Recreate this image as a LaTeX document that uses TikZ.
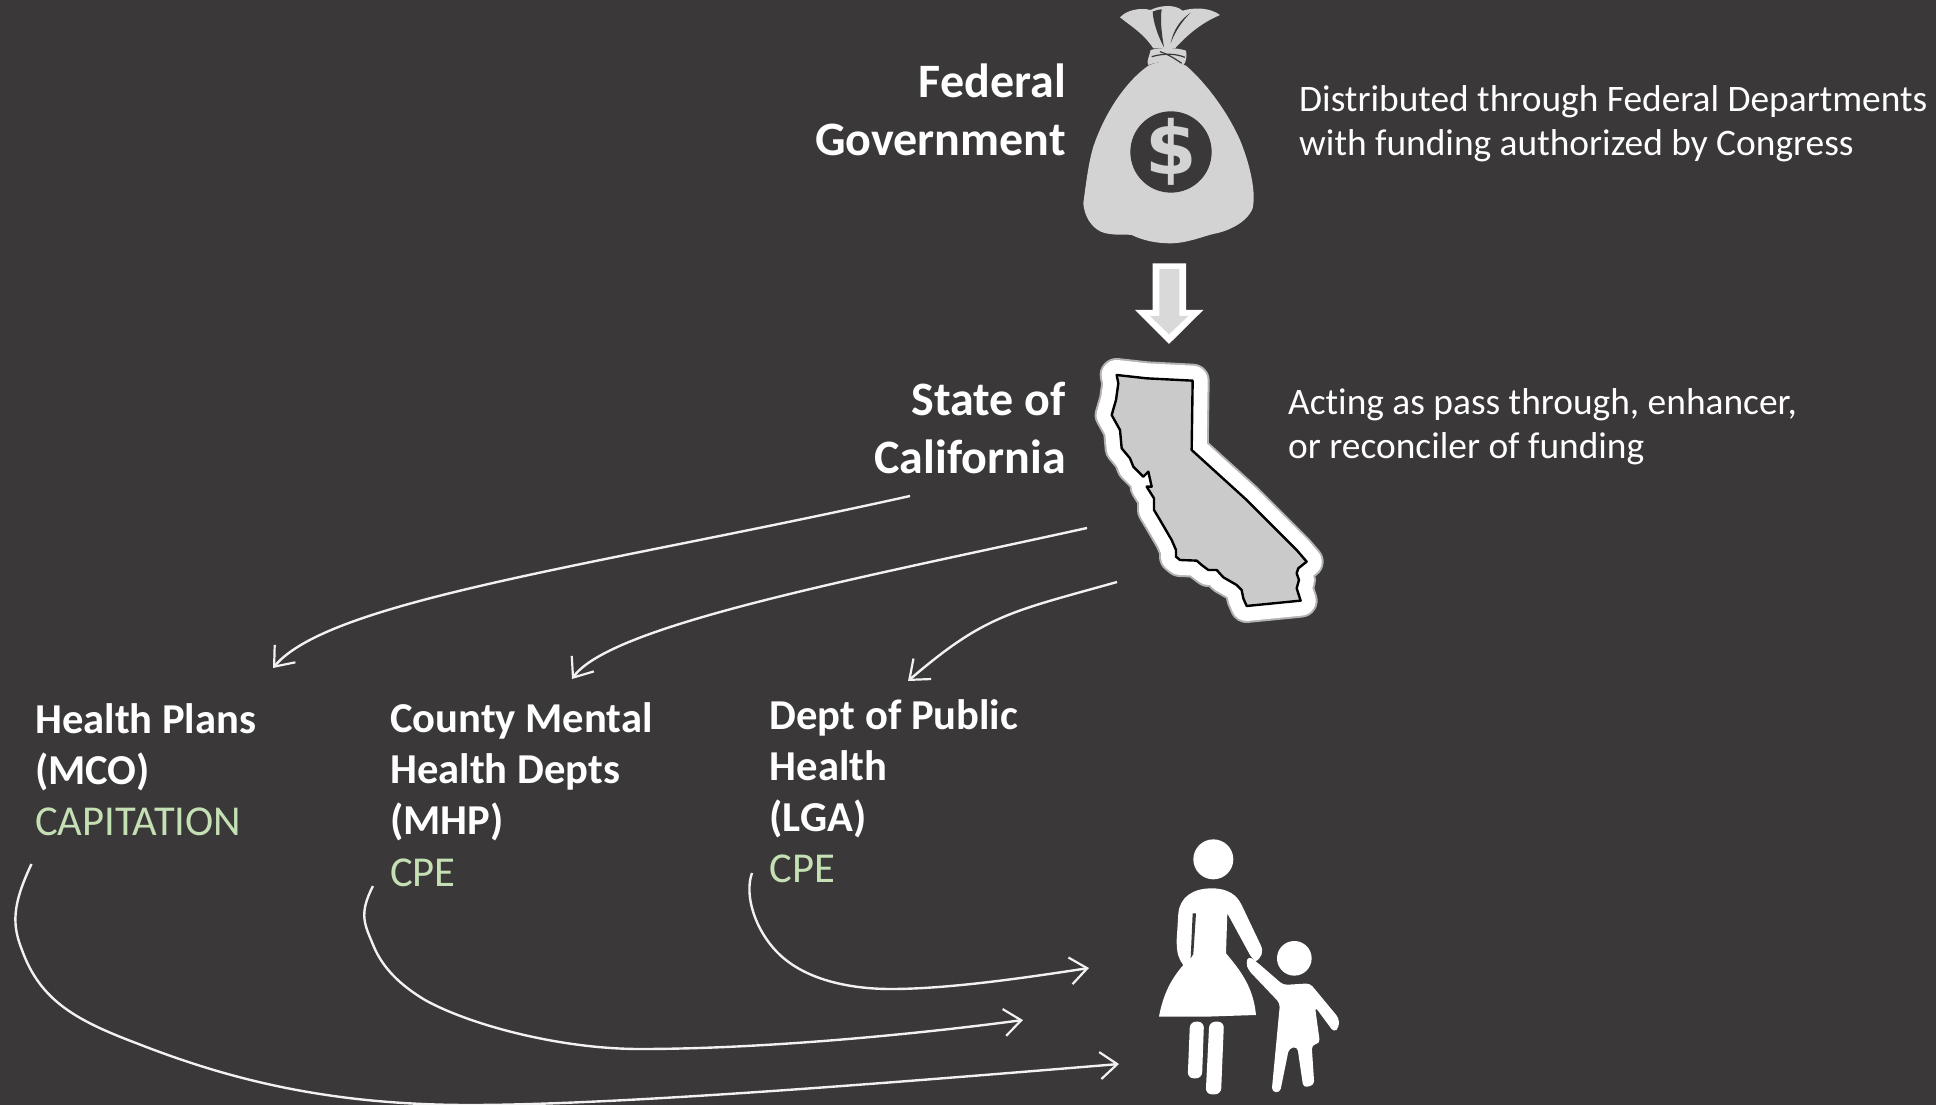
\documentclass[tikz,border=0pt]{standalone}
\usepackage{fontspec}
\setmainfont[Ligatures=NoCommon]{Carlito}
\newfontfamily\dollarfont{DejaVu Sans}
\usetikzlibrary{arrows.meta}
\definecolor{bgc}{HTML}{3A3838}
\definecolor{greenc}{HTML}{C5E0B4}
\definecolor{bagc}{HTML}{D3D3D3}
\definecolor{statec}{HTML}{CACACA}
\tikzset{
 head/.style={text=white,inner sep=0pt,font=\fontsize{48}{58}\selectfont\bfseries},
 desc/.style={text=white,inner sep=0pt,font=\fontsize{37.4}{44.4}\selectfont},
 lab/.style={text=white,inner sep=0pt,font=\fontsize{42.6}{51}\selectfont\bfseries},
 pay/.style={text=greenc,inner sep=0pt,font=\fontsize{42.6}{51}\selectfont},
 conn/.style={draw=white!95!black,line width=2.4pt,-{Straight Barb[length=17pt,width=27pt,line width=2.2pt]}},
}
\begin{document}
\begin{tikzpicture}[x=1pt,y=-1pt]
\useasboundingbox (0,0) rectangle (1936,1105);
\clip (0,0) rectangle (1936,1105);
\fill[bgc] (0,0) rectangle (1936,1105);
% money bag
\begin{scope}[shift={(1060,0)},x=0.3333pt,y=-0.3333pt]
\fill[bagc] (180,52) .. controls (200,30) and (240,22) .. (272,30) .. controls (290,20) and (340,8) .. (368,32) .. controls (400,22) and (450,22) .. (480,45) .. controls (440,62) and (395,90) .. (345,145) -- (280,145) .. controls (250,100) and (215,80) .. (180,52) -- cycle;
\fill[bgc] (278,35) .. controls (290,30) and (300,28) .. (305,28) .. controls (300,60) and (305,100) .. (312,142) .. controls (295,110) and (280,70) .. (278,35) -- cycle;
\fill[bgc] (392,38) .. controls (360,60) and (340,90) .. (332,130) .. controls (345,95) and (365,65) .. (392,38) -- cycle;
\fill[bagc] (272,150) .. controls (300,142) and (350,142) .. (378,152) .. controls (382,165) and (378,190) .. (370,195) .. controls (340,182) and (300,182) .. (265,195) .. controls (258,185) and (268,170) .. (272,150) -- cycle;
\draw[bgc,line width=1.2pt] (275,170) .. controls (310,160) and (345,160) .. (375,172);
\draw[bgc,line width=1.2pt] (300,155) .. controls (330,165) and (350,180) .. (365,190);
\fill[bagc] (265,197) .. controls (190,250) and (130,350) .. (100,440) .. controls (85,490) and (78,550) .. (70,610) .. controls (75,665) and (110,700) .. (150,702) .. controls (175,706) and (195,702) .. (215,705) .. controls (250,722) and (290,730) .. (330,730) .. controls (380,730) and (420,712) .. (460,702) .. controls (500,695) and (560,670) .. (578,625) .. controls (590,570) and (565,480) .. (540,420) .. controls (505,340) and (440,250) .. (378,197) .. controls (340,180) and (300,180) .. (265,197) -- cycle;
\fill[bgc] (333,456) circle[radius=122];
\node[text=bagc,inner sep=0pt,font=\dollarfont\fontsize{74}{74}\selectfont\bfseries] (dollar) at (333,455) {\$};
\end{scope}
% block arrow
\begin{scope}[shift={(1060,0)},x=0.3333pt,y=-0.3333pt]
\fill[white] (278,790) -- (378,790) -- (378,930) -- (430,930) -- (327,1032) -- (225,930) -- (278,930) -- cycle;
\fill[gray!30] (298,807) -- (358,807) -- (358,948) -- (385,948) -- (327,1003) -- (270,948) -- (298,948) -- cycle;
\end{scope}
% California
\begin{scope}[shift={(1080,350)},x=0.3333pt,y=-0.3333pt]
\def\calif{(110,75) -- (200,85) -- (338,92) -- (335,300) -- (500,450) -- (650,600) -- (680,635) -- (655,655) -- (650,670) -- (657,690) -- (650,715) -- (662,752) -- (500,768) -- (490,745) -- (485,720) -- (470,705) -- (430,682) -- (410,660) -- (385,660) -- (365,645) -- (350,632) -- (300,630) -- (288,620) -- (288,600) -- (275,570) -- (240,510) -- (222,480) -- (222,445) -- (200,410) -- (215,410) -- (205,365) -- (190,380) -- (160,350) -- (150,325) -- (125,295) -- (120,240) -- (95,195) -- (108,150) -- (115,100) -- cycle}
\draw[gray!60,line width=34pt,line join=round] \calif;
\draw[white,line width=30pt,line join=round] \calif;
\draw[black,fill=statec,line width=2.4pt,line join=round] \calif;
\end{scope}
% woman and child
\begin{scope}[shift={(1140,830)},x=0.3333pt,y=-0.3333pt]
\fill[white] (220,88) circle[radius=60];
\fill[white] (57,560) .. controls (70,490) and (95,445) .. (130,405) .. controls (115,385) and (110,370) .. (110,330) -- (115,250) .. controls (120,200) and (160,175) .. (215,175) .. controls (265,175) and (290,195) .. (305,225) -- (362,345) .. controls (372,365) and (365,385) .. (345,395) -- (330,375) -- (262,250) -- (258,370) .. controls (300,420) and (340,470) .. (348,555) -- (200,560) -- cycle;
\fill[bgc] (158,250) -- (168,250) -- (160,372) -- (152,385) -- cycle;
\fill[white,rounded corners=6pt] (150,575) -- (192,575) -- (186,745) -- (143,745) -- cycle;
\fill[white,rounded corners=6pt] (208,575) -- (252,575) -- (243,793) -- (197,793) -- cycle;
\fill[white] (463,385) circle[radius=52];
\fill[white,rounded corners=4pt] (325,378) -- (355,400) -- (430,465) -- (510,460) -- (597,565) -- (597,592) -- (582,607) -- (525,530) -- (540,640) -- (515,645) -- (523,765) -- (490,773) -- (472,650) -- (447,655) -- (420,788) -- (395,785) -- (420,520) -- (325,420) -- (318,400) -- cycle;
\end{scope}
% labels
\node[head,anchor=base east,align=right] (federal) at (1066,155.5) {Federal\\Government};
\node[head,anchor=base east,align=right] (state) at (1066,473) {State of\\California};
\node[desc,anchor=base west,align=left] (fdesc) at (1299,156) {Distributed through Federal Departments\\with funding authorized by Congress};
\node[desc,anchor=base west,align=left] (sdesc) at (1288,458.5) {Acting as pass through, enhancer,\\or reconciler of funding};
\node[lab,anchor=base west,align=left] (mco) at (35,784) {Health Plans\\(MCO)};
\node[pay,anchor=base west] (mcop) at (35,835) {CAPITATION};
\node[lab,anchor=base west,align=left] (mhp) at (390,834) {County Mental\\Health Depts\\(MHP)};
\node[pay,anchor=base west] (mhpp) at (390,886) {CPE};
\node[lab,anchor=base west,align=left] (lga) at (769.5,831) {Dept of Public\\Health\\(LGA)};
\node[pay,anchor=base west] (lgap) at (769.5,882) {CPE};
% connector ends
\coordinate (s1) at (910,496); \coordinate (t1) at (273,668);
\coordinate (s2) at (1087,528); \coordinate (t2) at (572,679);
\coordinate (s3) at (1117,582); \coordinate (t3) at (908,681);
\coordinate (s4) at (31.5,864); \coordinate (t4) at (1119,1064);
\coordinate (s5) at (373,886); \coordinate (t5) at (1023,1020);
\coordinate (s6) at (752,873); \coordinate (t6) at (1089,968);
\draw[conn] (s1) .. controls (600,565) and (330,600) .. (t1);
\draw[conn] (s2) .. controls (860,578) and (610,625) .. (t2);
\draw[conn] (s3) .. controls (1010,612) and (985,615) .. (t3);
\draw[conn] (s4) .. controls (12,905) and (12,925) .. (22,950) .. controls (40,1000) and (75,1020) .. (136,1043) .. controls (230,1080) and (330,1105) .. (470,1105) .. controls (620,1105) and (900,1082) .. (t4);
\draw[conn] (s5) .. controls (358,915) and (365,925) .. (374,947) .. controls (383,968) and (400,985) .. (425,1000) .. controls (470,1025) and (560,1049) .. (640,1049) .. controls (760,1049) and (910,1035) .. (t5);
\draw[conn] (s6) .. controls (744,895) and (755,930) .. (778,953) .. controls (805,980) and (850,989) .. (891,989) .. controls (950,989) and (1030,977) .. (t6);
\end{tikzpicture}
\end{document}
